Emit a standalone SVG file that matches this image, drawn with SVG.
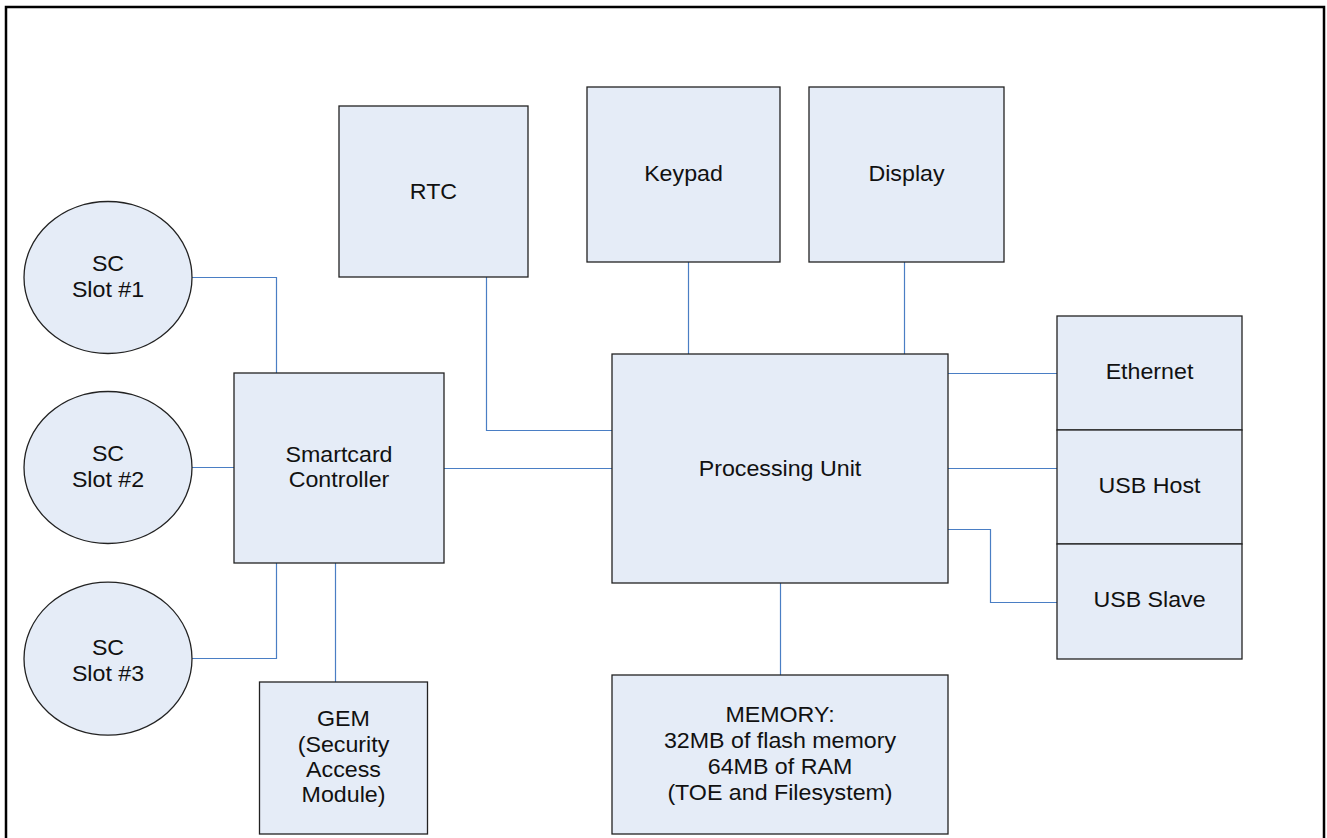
<svg xmlns="http://www.w3.org/2000/svg" width="1327" height="838" viewBox="0 0 1327 838">
<style>
.box{fill:#E5ECF7;stroke:#222;stroke-width:1.3}
.t{font-family:"Liberation Sans",Arial,sans-serif;font-size:21.5px;fill:#111;text-anchor:middle}
.c{fill:none;stroke:#4A7EC4;stroke-width:1.2}
</style>
<rect x="0" y="0" width="1327" height="838" fill="#fff"/>
<rect x="6" y="7" width="1318" height="900" fill="none" stroke="#000" stroke-width="2.5"/>
<g id="connectors">
<path class="c" d="M192,277.5 H276.5 V373"/>
<path class="c" d="M192,467.5 H234"/>
<path class="c" d="M192,658.5 H276.5 V563"/>
<path class="c" d="M335.5,563 V682"/>
<path class="c" d="M444,468.5 H612"/>
<path class="c" d="M486.5,277 V430.5 H612"/>
<path class="c" d="M688.5,262 V354"/>
<path class="c" d="M904.5,262 V354"/>
<path class="c" d="M948,373.5 H1057"/>
<path class="c" d="M948,468.5 H1057"/>
<path class="c" d="M948,529.5 H990.5 V602.5 H1057"/>
<path class="c" d="M780.5,583 V675"/>
</g>
<g id="slot1">
<ellipse class="box" cx="108" cy="277.5" rx="84" ry="76"/>
<text class="t" transform="translate(108,0) scale(1.08,1)"><tspan x="0" y="271">SC</tspan><tspan x="0" y="296.7">Slot #1</tspan></text>
</g>
<g id="slot2">
<ellipse class="box" cx="108" cy="467.5" rx="84" ry="76"/>
<text class="t" transform="translate(108,0) scale(1.08,1)"><tspan x="0" y="461">SC</tspan><tspan x="0" y="486.7">Slot #2</tspan></text>
</g>
<g id="slot3">
<ellipse class="box" cx="108" cy="658.7" rx="84" ry="76.5"/>
<text class="t" transform="translate(108,0) scale(1.08,1)"><tspan x="0" y="655">SC</tspan><tspan x="0" y="681">Slot #3</tspan></text>
</g>
<g id="rtc">
<rect class="box" x="339" y="106" width="189" height="171"/>
<text class="t" transform="translate(433.5,0) scale(1.08,1)" x="0" y="199">RTC</text>
</g>
<g id="keypad">
<rect class="box" x="587" y="87" width="193" height="175"/>
<text class="t" transform="translate(683.5,0) scale(1.08,1)" x="0" y="181">Keypad</text>
</g>
<g id="display">
<rect class="box" x="809" y="87" width="195" height="175"/>
<text class="t" transform="translate(906.5,0) scale(1.08,1)" x="0" y="181">Display</text>
</g>
<g id="smartcard">
<rect class="box" x="234" y="373" width="210" height="190"/>
<text class="t" transform="translate(339,0) scale(1.08,1)"><tspan x="0" y="462">Smartcard</tspan><tspan x="0" y="487.5">Controller</tspan></text>
</g>
<g id="processing">
<rect class="box" x="612" y="354" width="336" height="229"/>
<text class="t" transform="translate(780,0) scale(1.08,1)" x="0" y="476">Processing Unit</text>
</g>
<g id="ethernet">
<rect class="box" x="1057" y="316" width="185" height="114"/>
<text class="t" transform="translate(1149.5,0) scale(1.08,1)" x="0" y="379">Ethernet</text>
</g>
<g id="usbhost">
<rect class="box" x="1057" y="430" width="185" height="114"/>
<text class="t" transform="translate(1149.5,0) scale(1.08,1)" x="0" y="493">USB Host</text>
</g>
<g id="usbslave">
<rect class="box" x="1057" y="544" width="185" height="115"/>
<text class="t" transform="translate(1149.5,0) scale(1.08,1)" x="0" y="607">USB Slave</text>
</g>
<g id="gem">
<rect class="box" x="259.5" y="682" width="168" height="152"/>
<text class="t" transform="translate(343.5,0) scale(1.08,1)"><tspan x="0" y="726">GEM</tspan><tspan x="0" y="751.7">(Security</tspan><tspan x="0" y="777">Access</tspan><tspan x="0" y="802">Module)</tspan></text>
</g>
<g id="memory">
<rect class="box" x="612" y="675" width="336" height="159"/>
<text class="t" transform="translate(780,0) scale(1.08,1)"><tspan x="0" y="722.3">MEMORY:</tspan><tspan x="0" y="748">32MB of flash memory</tspan><tspan x="0" y="774">64MB of RAM</tspan><tspan x="0" y="799.6">(TOE and Filesystem)</tspan></text>
</g>
</svg>
